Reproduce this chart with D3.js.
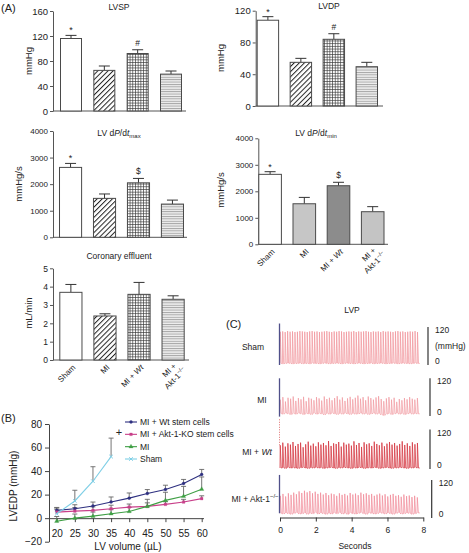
<!DOCTYPE html>
<html><head><meta charset="utf-8">
<script src="https://cdn.jsdelivr.net/npm/d3@7"></script>
<style>
body{margin:0;background:#fff;}
svg{font-family:"Liberation Sans",Arial,sans-serif;display:block;}
</style></head><body>
<svg id="c" width="469" height="553"></svg>
<script>
// ---------- DATA ----------
const groups = ["Sham","MI","MI + Wt","MI + Akt-1-/-"];
const lvspMean = [116,65,92,59];          const lvspErr = [5,7,6,5];
const lvdpMean = [108,55,84,49.5];        const lvdpErr = [4.5,5,7,5.5];
const dpdtMaxMean = [2630,1465,2050,1250]; const dpdtMaxErr = [150,165,165,150];
const dpdtMinMean = [2640,1530,2210,1230]; const dpdtMinErr = [100,240,130,190];
const coronaryMean = [3.69,2.40,3.58,3.31]; const coronaryErr = [0.43,0.12,0.65,0.19];
const lvspMarks = ["*","","#",""];
const lvdpMarks = ["*","","#",""];
const dpdtMaxMarks = ["*","","$",""];
const dpdtMinMarks = ["*","","$",""];
const coronaryMarks = ["","","",""];
const lvspTicks = [0,40,80,120,160];
const lvdpTicks = [0,40,80,120];
const dpdtTicks = [0,1000,2000,3000,4000];
const coronaryTicks = [0,1,2,3,4,5];

// Panel B
const volumes = [20,25,30,35,40,45,50,55,60];
const wtMean  = [6.6,8,10.3,13.7,17,20.9,24.3,29.4,37.1];
const wtErr   = [2.5,3.4,3.4,4.3,4.4,3.4,3.7,3.5,4.3];
const aktMean = [5.1,6,6.6,8,9.4,10,11.7,13.7,16.6];
const aktErr  = [2.5,3,3,3,2.6,3,2.3,2.3,2.4];
const miMean  = [-2.6,0,1.7,3.7,5.7,10,15.1,18.6,24.6];
const miErr   = [4,3.5,3.5,3.5,3.5,6,6.9,8.4,10.4];
const shamVolumes = [20,25,30,35];
const shamMean = [3.7,14.6,31.4,52.3];
const shamErr  = [5,9.1,12.3,15.7];
const bXTicks = [20,25,30,35,40,45,50,55,60];
const bYTicks = [-20,0,20,40,60,80];
const bLegend = ["MI + Wt stem cells","MI + Akt-1-KO stem cells","MI","Sham"];

// Panel C (LVP traces, mmHg per beat)
const traceSeconds = 7.8;
const cTicks = [0,2,4,6,8];
const shamPeaks = [105,106,104,107,105,106,104,105,107,106,105,104,106,107,105,106,104,105,106,107,105,104,106,105,107,106,104,105,106,105,107,104,106,105,106,107,105,104,106,105,106,104,107,105,106,105,104,106,107,105,106,104,105,106,105,107,104];
const shamTroughs = [5,4,5,6,5,4,5,5,6,4,5,5,4,6,5,5,4,5,6,5,4,5,5,6,5,4,5,6,5,5,4,5,6,5,4,5,5,6,4,5,5,6,5,4,5,5,6,5,4,5,6,5,5,4,5,6,5];
const miPeaks = [52,60,46,58,55,62,48,57,53,61,47,58,55,50,60,56,49,62,54,58,50,57,63,52,59,48,56,61,53,58,65,55,60,50,62,57,52,59,63,54,47,56,60,52,58,45,54,50,57,53,60,55,52,57];
const miTroughs = [8,6,9,7,5,8,6,9,7,5,8,7,5,9,6,8,7,4,8,6,9,7,5,8,6,9,7,5,8,6,7,9,6,8,5,7,9,6,8,4,2,6,8,5,7,9,6,8,5,7,9,6,8,7];
const wtPeaks = [72,80,68,78,74,82,70,76,80,66,75,83,71,77,69,81,74,79,72,85,70,78,76,82,68,80,74,77,71,84,73,79,67,81,75,78,70,83,76,72,80,69,77,82,74,79,71,76,84,73,78,70,81,75,79];
const wtTroughs = [3,4,2,5,3,4,3,2,4,5,3,2,4,3,5,3,4,2,3,4,5,3,2,4,3,5,4,3,2,4,3,5,4,2,3,4,3,5,4,2,3,4,5,3,2,4,3,5,4,3,2,4,3,5,3];
const aktPeaks = [70,76,68,78,73,80,75,84,79,86,81,85,78,83,76,80,74,79,72,77,75,70,78,73,76,71,79,74,77,72,80,75,78,73,76,70,74,77,71,75,68,73,76,70,72,67,74,69,71,66,70,65];
const aktTroughs = [15,13,16,14,12,15,17,13,14,16,12,15,14,17,13,16,14,12,15,13,16,14,17,13,15,12,16,14,13,15,17,14,12,16,15,13,14,17,15,13,16,14,12,15,17,13,14,16,15,12,14,16];
const rowNames = ["Sham","MI","MI + Wt","MI + Akt-1"];
const calibRanges = [[0,131],[-2,120],[72,153],[15,136]];

// ---------- DRAW ----------
const FONT = '"Liberation Sans",Arial,sans-serif';
const svg = d3.select("#c");
const defs = svg.append("defs");
const pDiag = defs.append("pattern").attr("id","diag").attr("patternUnits","userSpaceOnUse")
  .attr("width",3.6).attr("height",3.6).attr("patternTransform","rotate(45)");
pDiag.append("rect").attr("width",3.6).attr("height",3.6).attr("fill","#fff");
pDiag.append("line").attr("x1",0.5).attr("x2",0.5).attr("y1",0).attr("y2",3.6).attr("stroke","#222").attr("stroke-width",1);
const pGrid = defs.append("pattern").attr("id","grid").attr("patternUnits","userSpaceOnUse").attr("width",2.7).attr("height",2.7);
pGrid.append("rect").attr("width",2.7).attr("height",2.7).attr("fill","#fff");
pGrid.append("path").attr("d","M0,0.3H2.7M0.3,0V2.7").attr("stroke","#3a3a3a").attr("stroke-width",0.8);
const pHor = defs.append("pattern").attr("id","horiz").attr("patternUnits","userSpaceOnUse").attr("width",4).attr("height",2.4);
pHor.append("rect").attr("width",4).attr("height",2.4).attr("fill","#eee");
pHor.append("line").attr("x1",0).attr("x2",4).attr("y1",0.5).attr("y2",0.5).attr("stroke","#8f8f8f").attr("stroke-width",0.8);

const patFills = ["#fff","url(#diag)","url(#grid)","url(#horiz)"];
const greyFills = ["#fff","#c6c6c6","#8c8c8c","#c4c4c4"];

function addText(sel, segs){
  segs.forEach(s=>{
    const t = sel.append("tspan").text(s.t);
    if(s.i) t.attr("font-style","italic");
    if(s.sub) t.attr("font-size",6).attr("dy",2);
  });
}

function groupLabel(g, i, ax, ay){
  const gg = g.append("g").attr("transform",`translate(${ax},${ay}) rotate(-45)`);
  const t = gg.append("text").attr("text-anchor","end").attr("font-size",8).attr("fill","#222");
  if(i===0) t.text("Sham");
  else if(i===1) t.text("MI");
  else if(i===2){ t.append("tspan").text("MI + "); t.append("tspan").attr("font-style","italic").text("Wt"); }
  else {
    t.append("tspan").attr("x",0).attr("dy",-2).text("MI +");
    const t2 = gg.append("text").attr("text-anchor","end").attr("font-size",8).attr("fill","#222").attr("x",4).attr("y",8);
    t2.append("tspan").text("Akt-1");
    t2.append("tspan").attr("font-size",5.5).attr("dy",-3).text("\u2212/\u2212");
  }
}

function barPanel(o){
  const g = svg.append("g");
  const x = d3.scaleBand().domain(groups).range([o.r0,o.r1]).paddingInner(o.pi).paddingOuter(o.po);
  const y = d3.scaleLinear().domain([0,o.max]).range([o.y0,o.yTop]);
  const bw = x.bandwidth();
  const ag = g.append("g").attr("transform",`translate(${o.axisX},0)`)
    .call(d3.axisLeft(y).tickValues(o.ticks).tickSize(3).tickSizeOuter(0).tickPadding(2).tickFormat(d3.format("d")));
  ag.select(".domain").attr("stroke","#555");
  ag.selectAll(".tick line").attr("stroke","#555");
  ag.selectAll(".tick text").attr("font-size",o.tf).attr("fill","#222").attr("font-family",FONT);
  g.append("line").attr("x1",o.axisX).attr("x2",o.axisEnd).attr("y1",o.y0).attr("y2",o.y0).attr("stroke","#555").attr("stroke-width",1);
  g.selectAll("line.err").data(o.means).join("line").attr("class","err")
    .attr("x1",(d,i)=>x(groups[i])+bw/2).attr("x2",(d,i)=>x(groups[i])+bw/2)
    .attr("y1",d=>y(d)).attr("y2",(d,i)=>y(d+o.errs[i])).attr("stroke","#333").attr("stroke-width",1);
  g.selectAll("line.cap").data(o.means).join("line").attr("class","cap")
    .attr("x1",(d,i)=>x(groups[i])+bw/2-5.5).attr("x2",(d,i)=>x(groups[i])+bw/2+5.5)
    .attr("y1",(d,i)=>y(d+o.errs[i])).attr("y2",(d,i)=>y(d+o.errs[i])).attr("stroke","#333").attr("stroke-width",1);
  g.selectAll("rect.bar").data(o.means).join("rect").attr("class","bar")
    .attr("x",(d,i)=>x(groups[i])+0.5).attr("y",d=>y(d)).attr("width",bw-1).attr("height",d=>o.y0-y(d))
    .attr("fill",(d,i)=>o.fills[i]).attr("stroke","#4a4a4a").attr("stroke-width",1);
  g.selectAll("text.mark").data(o.marks).join("text").attr("class","mark")
    .attr("x",(d,i)=>x(groups[i])+bw/2).attr("y",(d,i)=>y(o.means[i]+o.errs[i])-(d==="*"?2:4))
    .attr("text-anchor","middle").attr("font-size",d=>d==="*"?9:8.5).attr("fill","#222").text(d=>d);
  const tt = g.append("text").attr("x",o.titleX).attr("y",o.titleY).attr("text-anchor","middle").attr("font-size",8.5).attr("fill","#222");
  addText(tt,o.title);
  g.append("text").attr("transform",`translate(${o.ylX},${o.ylY}) rotate(-90)`).attr("text-anchor","middle")
    .attr("font-size",9.5).attr("fill","#222").text(o.ylabel);
  if(o.cats){
    groups.forEach((gr,i)=>groupLabel(g,i,x(gr)+bw/2+5,o.y0+8));
  }
}

barPanel({means:lvspMean,errs:lvspErr,marks:lvspMarks,ticks:lvspTicks,max:160,y0:111,yTop:11,tf:9.5,
  axisX:53,axisEnd:186,r0:53,r1:189,pi:0.34,po:0.21,fills:patFills,
  title:[{t:"LVSP"}],titleX:119,titleY:10,ylabel:"mmHg",ylX:32,ylY:61});
barPanel({means:lvdpMean,errs:lvdpErr,marks:lvdpMarks,ticks:lvdpTicks,max:120,y0:106,yTop:10.7,tf:9.5,
  axisX:255.7,axisEnd:383,r0:255.7,r1:379,pi:0.32,po:0.03,fills:patFills,
  title:[{t:"LVDP"}],titleX:329,titleY:8.5,ylabel:"mmHg",ylX:224,ylY:58});
barPanel({means:dpdtMaxMean,errs:dpdtMaxErr,marks:dpdtMaxMarks,ticks:dpdtTicks,max:4000,y0:237.3,yTop:131,tf:8,
  axisX:53,axisEnd:187,r0:53,r1:190,pi:0.32,po:0.177,fills:patFills,
  title:[{t:"LV d"},{t:"P",i:1},{t:"/d"},{t:"t",i:1},{t:"max",sub:1}],titleX:119,titleY:136,ylabel:"mmHg/s",ylX:22,ylY:184});
barPanel({means:dpdtMinMean,errs:dpdtMinErr,marks:dpdtMinMarks,ticks:dpdtTicks,max:4000,y0:244.3,yTop:138.3,tf:8,
  axisX:258.3,axisEnd:388,r0:258.3,r1:384.5,pi:0.31,po:0,fills:greyFills,
  title:[{t:"LV d"},{t:"P",i:1},{t:"/d"},{t:"t",i:1},{t:"min",sub:1}],titleX:316,titleY:136,ylabel:"mmHg/s",ylX:224,ylY:190,cats:true});
barPanel({means:coronaryMean,errs:coronaryErr,marks:coronaryMarks,ticks:coronaryTicks,max:5,y0:360,yTop:268.3,tf:8.5,
  axisX:53,axisEnd:189,r0:53,r1:191,pi:0.32,po:0.185,fills:patFills,
  title:[{t:"Coronary effluent"}],titleX:119,titleY:259,ylabel:"mL/min",ylX:32,ylY:313,cats:true});

svg.append("text").attr("x",1).attr("y",12).attr("font-size",11).attr("fill","#222").text("(A)");
svg.append("text").attr("x",1).attr("y",422).attr("font-size",11).attr("fill","#222").text("(B)");
svg.append("text").attr("x",226).attr("y",328).attr("font-size",11).attr("fill","#222").text("(C)");

// ---------- Panel B ----------
(function(){
  const g = svg.append("g");
  const x = d3.scaleLinear().domain([17.87,60.5]).range([49,203.5]);
  const y = d3.scaleLinear().domain([-20,80]).range([541.7,424]);
  const ya = g.append("g").attr("transform","translate(49,0)")
    .call(d3.axisLeft(y).tickValues(bYTicks).tickSize(4).tickSizeOuter(0).tickPadding(3));
  const xa = g.append("g").attr("transform",`translate(0,${y(0)})`)
    .call(d3.axisBottom(x).tickValues(bXTicks).tickSize(4).tickSizeOuter(0).tickPadding(8));
  [ya,xa].forEach(a=>{
    a.select(".domain").attr("stroke","#444");
    a.selectAll(".tick line").attr("stroke","#444");
    a.selectAll(".tick text").attr("font-size",10).attr("fill","#222").attr("font-family",FONT);
  });
  g.append("text").attr("x",128).attr("y",550).attr("text-anchor","middle").attr("font-size",10).attr("fill","#222").text("LV volume (\u00B5L)");
  g.append("text").attr("transform","translate(17,486) rotate(-90)").attr("text-anchor","middle").attr("font-size",10).attr("fill","#222").text("LVEDP (mmHg)");

  const series = [
    {vx:volumes,m:wtMean,e:wtErr,c:"#2e3080",sym:d3.symbolCircle,size:7,fill:true},
    {vx:volumes,m:aktMean,e:aktErr,c:"#c8408a",sym:d3.symbolSquare,size:7,fill:true},
    {vx:volumes,m:miMean,e:miErr,c:"#3f9f45",sym:d3.symbolTriangle,size:8,fill:true},
    {vx:shamVolumes,m:shamMean,e:shamErr,c:"#7fcfe6",sym:(d3.symbolTimes||d3.symbolCross),size:10,fill:false}
  ];
  const line = d3.line();
  series.forEach(s=>{
    const sg = g.append("g");
    s.vx.forEach((v,i)=>{
      const cx = x(v), top = y(s.m[i]+s.e[i]);
      sg.append("line").attr("x1",cx).attr("x2",cx).attr("y1",y(s.m[i])).attr("y2",top).attr("stroke","#666").attr("stroke-width",0.9);
      sg.append("line").attr("x1",cx-2.5).attr("x2",cx+2.5).attr("y1",top).attr("y2",top).attr("stroke","#666").attr("stroke-width",0.9);
    });
  });
  series.forEach(s=>{
    g.append("path").attr("d",line(s.vx.map((v,i)=>[x(v),y(s.m[i])]))).attr("fill","none").attr("stroke",s.c).attr("stroke-width",1.1);
    s.vx.forEach((v,i)=>{
      g.append("path").attr("d",d3.symbol(s.sym,s.size)()).attr("transform",`translate(${x(v)},${y(s.m[i])})`)
        .attr("fill",s.fill?s.c:"none").attr("stroke",s.c).attr("stroke-width",s.fill?0.3:1);
    });
  });
  g.append("text").attr("x",x(35)+8).attr("y",y(shamMean[3]+shamErr[3])-2).attr("text-anchor","middle").attr("font-size",11).attr("fill","#222").text("+");
  const ly = d3.scalePoint().domain(bLegend).range([422,459]);
  bLegend.forEach((name,i)=>{
    const s = series[i], yy = ly(name);
    g.append("line").attr("x1",125).attr("x2",137).attr("y1",yy).attr("y2",yy).attr("stroke",s.c).attr("stroke-width",1.1);
    g.append("path").attr("d",d3.symbol(s.sym,s.size)()).attr("transform",`translate(131,${yy})`)
      .attr("fill",s.fill?s.c:"none").attr("stroke",s.c).attr("stroke-width",s.fill?0.3:1);
    g.append("text").attr("x",140).attr("y",yy+3).attr("font-size",8.5).attr("fill","#222").text(name);
  });
})();

// ---------- Panel C ----------
(function(){
  const g = svg.append("g");
  const t = d3.scaleLinear().domain([0,8]).range([280,423.3]);
  const rows = [
    {peaks:shamPeaks,troughs:shamTroughs,color:"#f0929a",y0:365,y120:327,barX:428,lx:253,ly:350,w:0.7},
    {peaks:miPeaks,troughs:miTroughs,color:"#f0989f",y0:416,y120:378.3,barX:430,lx:262,ly:403,w:0.7},
    {peaks:wtPeaks,troughs:wtTroughs,color:"#d63a44",y0:469,y120:429.5,barX:430,lx:257,ly:455,w:0.8},
    {peaks:aktPeaks,troughs:aktTroughs,color:"#f08896",y0:518,y120:480,barX:431.7,lx:255,ly:501.5,w:0.7}
  ];
  g.append("text").attr("x",352).attr("y",313).attr("text-anchor","middle").attr("font-size",8.5).attr("fill","#222").text("LVP");
  rows.forEach((r,ri)=>{
    const y = d3.scaleLinear().domain([0,120]).range([r.y0,r.y120]);
    const n = r.peaks.length, per = traceSeconds/n;
    const pts = [];
    r.peaks.forEach((p,i)=>{
      const t0 = i*per;
      pts.push([t(t0), y(r.troughs[i])]);
      pts.push([t(t0+per*0.1), y(p)]);
      pts.push([t(t0+per*0.5), y(r.troughs[i])]);
    });
    pts.push([t(traceSeconds), y(r.troughs[n-1])]);
    g.append("path").attr("d",d3.line()(pts)).attr("fill","none").attr("stroke",r.color).attr("stroke-width",r.w);
    const cr = calibRanges[ri];
    g.append("line").attr("x1",t(0)-0.5).attr("x2",t(0)-0.5).attr("y1",y(cr[0])).attr("y2",y(cr[1]))
      .attr("stroke", ri===2?"#e07070":"#50508a").attr("stroke-width",ri===2?1:1.3)
      .attr("stroke-dasharray", ri===2?"1,1.5":null);
    g.append("line").attr("x1",r.barX).attr("x2",r.barX).attr("y1",y(0)).attr("y2",y(120)).attr("stroke","#333").attr("stroke-width",1.2);
    g.append("text").attr("x",r.barX+7).attr("y",y(120)+6).attr("font-size",8.5).attr("fill","#222").text("120");
    g.append("text").attr("x",r.barX+7).attr("y",y(0)-1).attr("font-size",8.5).attr("fill","#222").text("0");
    if(ri===0) g.append("text").attr("x",r.barX+7).attr("y",y(60)+3).attr("font-size",8.5).attr("fill","#222").text("(mmHg)");
    const lt = g.append("text").attr("x",r.lx).attr("y",r.ly).attr("text-anchor","middle").attr("font-size",8.5).attr("fill","#222");
    if(ri===2){ lt.append("tspan").text("MI + "); lt.append("tspan").attr("font-style","italic").text("Wt"); }
    else if(ri===3){ lt.append("tspan").text(rowNames[3]); lt.append("tspan").attr("font-size",6).attr("dy",-3.5).text("\u2212/\u2212"); }
    else lt.text(rowNames[ri]);
  });
  const xa = g.append("g").attr("transform","translate(0,517.5)")
    .call(d3.axisBottom(t).tickValues(cTicks).tickSize(4).tickSizeOuter(0).tickPadding(5).tickFormat(d3.format("d")));
  xa.select(".domain").attr("stroke","#333");
  xa.selectAll(".tick line").attr("stroke","#333");
  xa.selectAll(".tick text").attr("font-size",8.5).attr("fill","#222").attr("font-family",FONT);
  g.append("text").attr("x",355).attr("y",549).attr("text-anchor","middle").attr("font-size",8.5).attr("fill","#222").text("Seconds");
})();
</script>
</body></html>
